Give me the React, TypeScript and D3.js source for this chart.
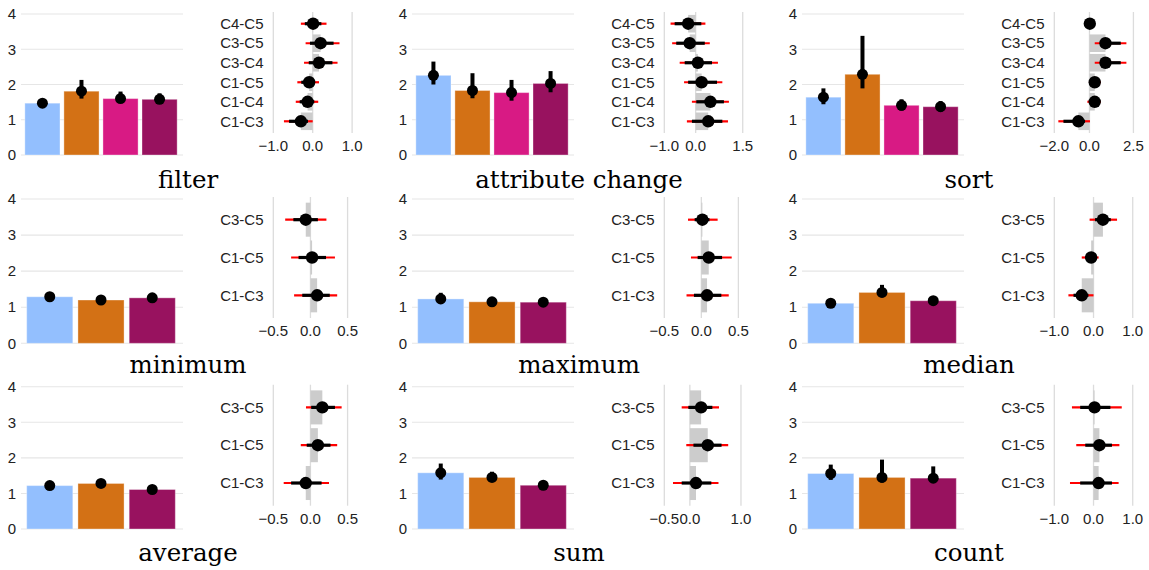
import React from "react";
import * as d3 from "d3";

// ---------- data ----------
const panelNames = ["filter", "attribute change", "sort", "minimum", "maximum", "median", "average", "sum", "count"];

const conditionColors: Record<string, string> = {
  C1: "#93bffe",
  C3: "#d37115",
  C4: "#d81a84",
  C5: "#98125f",
};

// bar charts: mean with interval (lo, hi)
const filterBars = [
  { cond: "C1", mean: 1.47, lo: 1.42, hi: 1.52 },
  { cond: "C3", mean: 1.81, lo: 1.6, hi: 2.13 },
  { cond: "C4", mean: 1.6, lo: 1.5, hi: 1.8 },
  { cond: "C5", mean: 1.58, lo: 1.47, hi: 1.75 },
];
const attributeChangeBars = [
  { cond: "C1", mean: 2.26, lo: 2.0, hi: 2.65 },
  { cond: "C3", mean: 1.83, lo: 1.61, hi: 2.32 },
  { cond: "C4", mean: 1.77, lo: 1.54, hi: 2.13 },
  { cond: "C5", mean: 2.03, lo: 1.78, hi: 2.38 },
];
const sortBars = [
  { cond: "C1", mean: 1.64, lo: 1.44, hi: 1.89 },
  { cond: "C3", mean: 2.29, lo: 1.89, hi: 3.38 },
  { cond: "C4", mean: 1.41, lo: 1.26, hi: 1.58 },
  { cond: "C5", mean: 1.37, lo: 1.23, hi: 1.53 },
];
const minimumBars = [
  { cond: "C1", mean: 1.29, lo: 1.25, hi: 1.33 },
  { cond: "C3", mean: 1.2, lo: 1.16, hi: 1.24 },
  { cond: "C5", mean: 1.26, lo: 1.22, hi: 1.3 },
];
const maximumBars = [
  { cond: "C1", mean: 1.23, lo: 1.12, hi: 1.4 },
  { cond: "C3", mean: 1.15, lo: 1.08, hi: 1.22 },
  { cond: "C5", mean: 1.14, lo: 1.07, hi: 1.2 },
];
const medianBars = [
  { cond: "C1", mean: 1.11, lo: 1.06, hi: 1.16 },
  { cond: "C3", mean: 1.41, lo: 1.28, hi: 1.62 },
  { cond: "C5", mean: 1.18, lo: 1.12, hi: 1.25 },
];
const averageBars = [
  { cond: "C1", mean: 1.22, lo: 1.17, hi: 1.27 },
  { cond: "C3", mean: 1.28, lo: 1.23, hi: 1.33 },
  { cond: "C5", mean: 1.11, lo: 1.06, hi: 1.16 },
];
const sumBars = [
  { cond: "C1", mean: 1.58, lo: 1.39, hi: 1.84 },
  { cond: "C3", mean: 1.45, lo: 1.35, hi: 1.61 },
  { cond: "C5", mean: 1.23, lo: 1.11, hi: 1.35 },
];
const countBars = [
  { cond: "C1", mean: 1.56, lo: 1.38, hi: 1.81 },
  { cond: "C3", mean: 1.45, lo: 1.31, hi: 1.95 },
  { cond: "C5", mean: 1.43, lo: 1.31, hi: 1.76 },
];

// pairwise differences: mean, 95% interval (red), 50% interval (black)
const filterDiffs = [
  { label: "C4-C5", mean: 0.01, lo95: -0.3, hi95: 0.35, lo50: -0.2, hi50: 0.22 },
  { label: "C3-C5", mean: 0.2, lo95: -0.18, hi95: 0.68, lo50: -0.07, hi50: 0.53 },
  { label: "C3-C4", mean: 0.16, lo95: -0.22, hi95: 0.63, lo50: -0.1, hi50: 0.5 },
  { label: "C1-C5", mean: -0.09, lo95: -0.39, hi95: 0.16, lo50: -0.29, hi50: 0.05 },
  { label: "C1-C4", mean: -0.13, lo95: -0.43, hi95: 0.14, lo50: -0.33, hi50: 0.04 },
  { label: "C1-C3", mean: -0.3, lo95: -0.73, hi95: 0.0, lo50: -0.6, hi50: -0.12 },
];
const attributeChangeDiffs = [
  { label: "C4-C5", mean: -0.24, lo95: -0.8, hi95: 0.31, lo50: -0.67, hi50: 0.18 },
  { label: "C3-C5", mean: -0.19, lo95: -0.75, hi95: 0.45, lo50: -0.62, hi50: 0.29 },
  { label: "C3-C4", mean: 0.07, lo95: -0.51, hi95: 0.71, lo50: -0.35, hi50: 0.52 },
  { label: "C1-C5", mean: 0.19, lo95: -0.37, hi95: 0.85, lo50: -0.24, hi50: 0.68 },
  { label: "C1-C4", mean: 0.47, lo95: -0.12, hi95: 1.06, lo50: 0.02, hi50: 0.9 },
  { label: "C1-C3", mean: 0.4, lo95: -0.28, hi95: 1.03, lo50: -0.12, hi50: 0.85 },
];
const sortDiffs = [
  { label: "C4-C5", mean: 0.02, lo95: -0.12, hi95: 0.15, lo50: -0.06, hi50: 0.09 },
  { label: "C3-C5", mean: 0.91, lo95: 0.3, hi95: 2.1, lo50: 0.6, hi50: 1.78 },
  { label: "C3-C4", mean: 0.91, lo95: 0.3, hi95: 2.1, lo50: 0.6, hi50: 1.78 },
  { label: "C1-C5", mean: 0.3, lo95: -0.03, hi95: 0.65, lo50: 0.12, hi50: 0.5 },
  { label: "C1-C4", mean: 0.3, lo95: -0.12, hi95: 0.65, lo50: 0.1, hi50: 0.5 },
  { label: "C1-C3", mean: -0.63, lo95: -1.77, hi95: 0.03, lo50: -1.48, hi50: -0.25 },
];
const minimumDiffs = [
  { label: "C3-C5", mean: -0.063, lo95: -0.34, hi95: 0.215, lo50: -0.23, hi50: 0.1 },
  { label: "C1-C5", mean: 0.022, lo95: -0.26, hi95: 0.33, lo50: -0.16, hi50: 0.21 },
  { label: "C1-C3", mean: 0.09, lo95: -0.22, hi95: 0.36, lo50: -0.11, hi50: 0.26 },
];
const maximumDiffs = [
  { label: "C3-C5", mean: 0.014, lo95: -0.18, hi95: 0.22, lo50: -0.09, hi50: 0.11 },
  { label: "C1-C5", mean: 0.1, lo95: -0.14, hi95: 0.41, lo50: -0.05, hi50: 0.28 },
  { label: "C1-C3", mean: 0.077, lo95: -0.2, hi95: 0.37, lo50: -0.1, hi50: 0.27 },
];
const medianDiffs = [
  { label: "C3-C5", mean: 0.24, lo95: -0.1, hi95: 0.6, lo50: 0.04, hi50: 0.44 },
  { label: "C1-C5", mean: -0.06, lo95: -0.3, hi95: 0.13, lo50: -0.21, hi50: 0.07 },
  { label: "C1-C3", mean: -0.3, lo95: -0.64, hi95: 0.0, lo50: -0.51, hi50: -0.13 },
];
const averageDiffs = [
  { label: "C3-C5", mean: 0.16, lo95: -0.06, hi95: 0.42, lo50: 0.01, hi50: 0.33 },
  { label: "C1-C5", mean: 0.1, lo95: -0.13, hi95: 0.36, lo50: -0.05, hi50: 0.27 },
  { label: "C1-C3", mean: -0.063, lo95: -0.36, hi95: 0.25, lo50: -0.26, hi50: 0.15 },
];
const sumDiffs = [
  { label: "C3-C5", mean: 0.22, lo95: -0.16, hi95: 0.57, lo50: -0.03, hi50: 0.44 },
  { label: "C1-C5", mean: 0.35, lo95: -0.07, hi95: 0.75, lo50: 0.07, hi50: 0.62 },
  { label: "C1-C3", mean: 0.12, lo95: -0.33, hi95: 0.56, lo50: -0.16, hi50: 0.42 },
];
const countDiffs = [
  { label: "C3-C5", mean: 0.026, lo95: -0.55, hi95: 0.72, lo50: -0.34, hi50: 0.43 },
  { label: "C1-C5", mean: 0.15, lo95: -0.44, hi95: 0.66, lo50: -0.21, hi50: 0.47 },
  { label: "C1-C3", mean: 0.13, lo95: -0.6, hi95: 0.64, lo50: -0.34, hi50: 0.47 },
];

// forest plot x domains and tick values
const diffDomains = [
  [-1, 1.03], [-1, 1.55], [-2, 2.55],
  [-0.5, 0.577], [-0.5, 0.58], [-1, 1.04],
  [-0.5, 0.577], [-0.5, 1.065], [-1, 1.04],
];
const diffTicks = [
  [-1, 0, 1], [-1, 0, 1.5], [-2, 0, 2.5],
  [-0.5, 0, 0.5], [-0.5, 0, 0.5], [-1, 0, 1],
  [-0.5, 0, 0.5], [-0.5, 0, 1], [-1, 0, 1],
];
const barTicks = [0, 1, 2, 3, 4];

const allBars = [filterBars, attributeChangeBars, sortBars, minimumBars, maximumBars, medianBars, averageBars, sumBars, countBars];
const allDiffs = [filterDiffs, attributeChangeDiffs, sortDiffs, minimumDiffs, maximumDiffs, medianDiffs, averageDiffs, sumDiffs, countDiffs];

// ---------- layout ----------
const W = 1149;
const H = 570;
const COL_X = [0, 391, 781];
const ROW_TOP = [14, 199, 386.7];
const ROW_H = [141, 144.3, 142.3];
const SANS = "'Liberation Sans', Arial, sans-serif";
const SERIF = "'DejaVu Serif', serif";
const TEXT = "#222";

function Panel({ idx }: { idx: number }) {
  const cx = COL_X[idx % 3];
  const r = Math.floor(idx / 3);
  const top = ROW_TOP[r];
  const h = ROW_H[r];
  const bars = allBars[idx];
  const diffs = allDiffs[idx];
  const n = bars.length;

  const y = d3.scaleLinear().domain([0, 4]).range([top + h, top]);
  const x = d3.scaleLinear().domain([0.4, n + 0.6]).range([cx + 19, cx + 183]);

  const fx = d3.scaleLinear().domain(diffDomains[idx]).range([cx + 273.3, cx + 353.3]);
  const fy = d3
    .scalePoint<string>()
    .domain(diffs.map((d) => d.label))
    .range([top - 2, top + 119])
    .padding(0.6);
  const step = fy.step();
  const fmt = d3.format(".1f");

  return (
    <g>
      {/* bar chart gridlines */}
      {barTicks.map((t) => (
        <g key={"g" + t}>
          <line x1={cx + 21} x2={cx + 183} y1={y(t)} y2={y(t)} stroke="#e6e6e6" strokeWidth={1.1} />
          <text x={cx + 16} y={y(t)} dy="0.35em" textAnchor="end" fontFamily={SANS} fontSize={15} fill={TEXT}>
            {t}
          </text>
        </g>
      ))}
      {bars.map((b, i) => (
        <rect
          key={"b" + i}
          x={x(i + 1 - 0.45)}
          width={x(i + 1 + 0.45) - x(i + 1 - 0.45)}
          y={y(b.mean)}
          height={y(0) - y(b.mean)}
          fill={conditionColors[b.cond]}
          stroke="#ffffff"
          strokeOpacity={0.35}
          strokeWidth={1}
        />
      ))}
      {bars.map((b, i) => (
        <g key={"e" + i}>
          <line x1={x(i + 1)} x2={x(i + 1)} y1={y(b.lo)} y2={y(b.hi)} stroke="#000" strokeWidth={4} />
          <circle cx={x(i + 1)} cy={y(b.mean)} r={5.5} fill="#000" />
        </g>
      ))}

      {/* forest plot */}
      {diffTicks[idx].map((t) => (
        <g key={"f" + t}>
          <line x1={fx(t)} x2={fx(t)} y1={top - 2} y2={top + 119} stroke="#dcdcdc" strokeWidth={1.3} />
          <text x={fx(t)} y={top + 132} dy="0.35em" textAnchor="middle" fontFamily={SANS} fontSize={15} fill={TEXT}>
            {fmt(t)}
          </text>
        </g>
      ))}
      {diffs.map((d) => {
        const yy = fy(d.label) as number;
        const x0 = fx(0);
        const xm = fx(d.mean);
        return (
          <g key={"d" + d.label}>
            <rect
              x={Math.min(x0, xm)}
              width={Math.abs(xm - x0)}
              y={yy - step * 0.45}
              height={step * 0.9}
              fill="#cccccc"
            />
          </g>
        );
      })}
      {diffs.map((d) => {
        const yy = fy(d.label) as number;
        return (
          <g key={"l" + d.label}>
            <text x={cx + 263.5} y={yy} dy="0.35em" textAnchor="end" fontFamily={SANS} fontSize={15} fill={TEXT}>
              {d.label}
            </text>
            <line x1={fx(d.lo95)} x2={fx(d.hi95)} y1={yy} y2={yy} stroke="#ff0000" strokeWidth={2.2} />
            <line x1={fx(d.lo50)} x2={fx(d.hi50)} y1={yy} y2={yy} stroke="#000" strokeWidth={3.2} />
            <circle cx={fx(d.mean)} cy={yy} r={6.2} fill="#000" />
          </g>
        );
      })}

      {/* title */}
      <text x={cx + 188} y={top + 174} textAnchor="middle" fontFamily={SERIF} fontSize={24.5} fill="#000">
        {panelNames[idx]}
      </text>
    </g>
  );
}

export default function App() {
  return (
    <svg
      width={W}
      height={H}
      viewBox={`0 0 ${W} ${H}`}
      style={{ position: "absolute", left: 0, top: 0, background: "#fff" }}
    >
      <rect x={0} y={0} width={W} height={H} fill="#fff" />
      {panelNames.map((_, i) => (
        <Panel key={i} idx={i} />
      ))}
    </svg>
  );
}
